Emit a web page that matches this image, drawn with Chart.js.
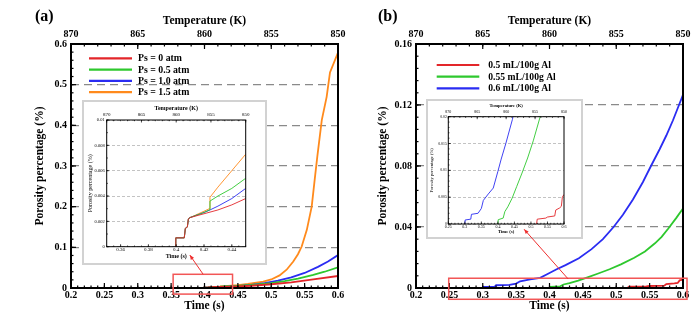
<!DOCTYPE html>
<html>
<head>
<meta charset="utf-8">
<script src="https://cdn.jsdelivr.net/npm/chart.js@4.4.1/dist/chart.umd.min.js"></script>
<style>
  body { margin: 0; background: #fff; overflow: hidden; }
  #wrap { position: relative; width: 700px; height: 321px; }
  #wrap canvas { position: absolute; }
  .inset { position: absolute; box-sizing: border-box; border: 2px solid #d2d2d2; background: #fff; }
  .inset canvas { left: 0; top: 0; }
</style>
</head>
<body>
<div id="wrap">
  <canvas id="mainA" width="350" height="321" style="left:0;top:0"></canvas>
  <canvas id="mainB" width="350" height="321" style="left:350px;top:0"></canvas>
  <div class="inset" style="left:82px;top:100px;width:185px;height:165px"><canvas id="insetA" width="181" height="161"></canvas></div>
  <div class="inset" style="left:426px;top:99px;width:157px;height:140px"><canvas id="insetB" width="153" height="136"></canvas></div>
  <canvas id="overlay" width="700" height="321" style="left:0;top:0"></canvas>
</div>
<script>
// ---- panel (a): porosity vs time for different pressures ----
const aLabels = ['Ps = 0 atm', 'Ps = 0.5 atm', 'Ps = 1.0 atm', 'Ps = 1.5 atm'];
const aRedT = [0.3995, 0.3997, 0.4058, 0.4066, 0.408, 0.4088, 0.41, 0.42, 0.43, 0.44, 0.45, 0.47, 0.5, 0.53, 0.563, 0.6];
const aRedV = [0, 0.0007, 0.0007, 0.00145, 0.00155, 0.0022, 0.0023, 0.0026, 0.0029, 0.0033, 0.0038, 0.0055, 0.0092, 0.014, 0.021, 0.0295];
const aGreenT = [0.3995, 0.3997, 0.4058, 0.4066, 0.408, 0.4088, 0.41, 0.42, 0.4238, 0.4243, 0.43, 0.44, 0.45, 0.47, 0.5, 0.52, 0.54, 0.563, 0.58, 0.6];
const aGreenV = [0, 0.0007, 0.0007, 0.00145, 0.00155, 0.0022, 0.0023, 0.0027, 0.0029, 0.0036, 0.004, 0.0046, 0.0054, 0.0075, 0.012, 0.017, 0.023, 0.032, 0.04, 0.051];
const aBlueT = [0.3995, 0.3997, 0.4058, 0.4066, 0.408, 0.4088, 0.41, 0.42, 0.4243, 0.43, 0.44, 0.45, 0.47, 0.49, 0.51, 0.53, 0.55, 0.57, 0.585, 0.6];
const aBlueV = [0, 0.0007, 0.0007, 0.00145, 0.00155, 0.0022, 0.0023, 0.0027, 0.0029, 0.0032, 0.0038, 0.0046, 0.0077, 0.012, 0.018, 0.026, 0.037, 0.052, 0.065, 0.081];
const aOrangeT = [0.3995, 0.3997, 0.4058, 0.4066, 0.408, 0.4088, 0.41, 0.42, 0.4238, 0.4243, 0.43, 0.44, 0.45, 0.465, 0.488, 0.5, 0.5125, 0.523, 0.533, 0.54, 0.5456, 0.5533, 0.5606, 0.566, 0.569, 0.5757, 0.583, 0.588, 0.6];
const aOrangeV = [0, 0.0007, 0.0007, 0.00145, 0.00155, 0.0022, 0.0023, 0.0028, 0.003, 0.0039, 0.0047, 0.006, 0.0073, 0.0098, 0.0155, 0.021, 0.031, 0.045, 0.065, 0.083, 0.102, 0.143, 0.2, 0.28, 0.323, 0.413, 0.47, 0.53, 0.579];
const aYTicks = [0, 0.1, 0.2, 0.3, 0.4, 0.5, 0.6];
const aYLabels = ['0', '0.1', '0.2', '0.3', '0.4', '0.5', '0.6'];
const aZoomBox = [0.353, 0.442, -0.015, 0.0337];     // t0, t1, v0, v1 of the red box
const aArrow = [0.398, 0.0337, 0.378, 0.081];        // from (t, v) to (t, v)

// ---- panel (b): porosity vs time for different hydrogen contents ----
const bLabels = ['0.5 mL/100g Al', '0.55 mL/100g Al', '0.6 mL/100g Al'];
const bRedT = [0.517, 0.519, 0.545, 0.55, 0.572, 0.575, 0.587, 0.592, 0.595, 0.6];
const bRedV = [0, 0.0009, 0.0011, 0.0013, 0.0015, 0.0026, 0.003, 0.0033, 0.005, 0.0055];
const bGreenT = [0.4, 0.401, 0.416, 0.421, 0.43, 0.443, 0.457, 0.473, 0.49, 0.507, 0.527, 0.543, 0.558, 0.568, 0.578, 0.59, 0.6];
const bGreenV = [0, 0.0008, 0.0011, 0.0023, 0.0032, 0.0048, 0.007, 0.0095, 0.0123, 0.0155, 0.0198, 0.024, 0.0293, 0.0335, 0.039, 0.046, 0.0522];
const bBlueT = [0.3, 0.301, 0.318, 0.32, 0.34, 0.35, 0.356, 0.371, 0.386, 0.4, 0.41, 0.424, 0.444, 0.463, 0.48, 0.496, 0.51, 0.525, 0.54, 0.552, 0.565, 0.575, 0.585, 0.594, 0.6];
const bBlueV = [0, 0.00075, 0.0009, 0.0018, 0.002, 0.0029, 0.0044, 0.0056, 0.0067, 0.0098, 0.0121, 0.015, 0.0195, 0.0255, 0.032, 0.04, 0.048, 0.058, 0.0695, 0.08, 0.091, 0.1, 0.11, 0.12, 0.1266];
const bYTicks = [0, 0.04, 0.08, 0.12, 0.16];
const bYLabels = ['0', '0.04', '0.08', '0.12', '0.16'];
const bZoomBox = [0.249, 0.606, -0.0074, 0.0064];
const bArrow = [0.428, 0.0059, 0.362, 0.0385];

// ---- shared axes ----
const timeTicks = [0.2, 0.25, 0.3, 0.35, 0.4, 0.45, 0.5, 0.55, 0.6];
const timeLabels = ['0.2', '0.25', '0.3', '0.35', '0.4', '0.45', '0.5', '0.55', '0.6'];
const tempTicks = [0.2, 0.3, 0.4, 0.5, 0.6];
const tempLabels = ['870', '865', '860', '855', '850'];

// ---- insets ----
const iaTimeTicks = [0.36, 0.38, 0.4, 0.42, 0.44];
const iaTimeLabels = ['0.36', '0.38', '0.4', '0.42', '0.44'];
const iaTempTicks = [0.35, 0.375, 0.4, 0.425, 0.45];
const iaYTicks = [0, 0.002, 0.004, 0.006, 0.008, 0.01];
const iaYLabels = ['0', '0.002', '0.004', '0.006', '0.008', '0.01'];
const ibTimeTicks = [0.25, 0.3, 0.35, 0.4, 0.45, 0.5, 0.55, 0.6];
const ibTimeLabels = ['0.25', '0.3', '0.35', '0.4', '0.45', '0.5', '0.55', '0.6'];
const ibTempTicks = [0.25, 0.3375, 0.425, 0.5125, 0.6];
const ibYTicks = [0, 0.005, 0.01, 0.015, 0.02];
const ibYLabels = ['0', '0.005', '0.01', '0.015', '0.02'];

const RED = '#e3262a', GREEN = '#2ec82e', BLUE = '#2a2cf2', ORANGE = '#ff8a1c';
const SERIF = "'Liberation Serif', 'Times New Roman', serif";
Chart.defaults.font.family = SERIF;
Chart.defaults.color = '#000';

// frame box with inward major/minor ticks on bottom, left and top
const frameTicks = {
  id: 'frameTicks',
  afterDatasetsDraw(chart, args, o) {
    const { ctx, chartArea: a, scales } = chart;
    ctx.save();
    ctx.strokeStyle = '#000';
    const tick = (x1, y1, x2, y2) => { ctx.beginPath(); ctx.moveTo(x1, y1); ctx.lineTo(x2, y2); ctx.stroke(); };
    const minors = (s, step) => {
      const n = Math.round((s.max - s.min) / step);
      const out = [];
      for (let i = 0; i <= n; i++) out.push(s.min + i * step);
      return out;
    };
    ctx.lineWidth = o.tickW;
    minors(scales.x, o.minorX).forEach(v => { const p = scales.x.getPixelForValue(v); tick(p, a.bottom, p, a.bottom - o.minor); });
    scales.x.ticks.forEach(t => { const p = scales.x.getPixelForValue(t.value); tick(p, a.bottom, p, a.bottom - o.major); });
    minors(scales.x2, o.minorTop).forEach(v => { const p = scales.x2.getPixelForValue(v); tick(p, a.top, p, a.top + o.minor); });
    scales.x2.ticks.forEach(t => { const p = scales.x2.getPixelForValue(t.value); tick(p, a.top, p, a.top + o.major); });
    minors(scales.y, o.minorY).forEach(v => { const p = scales.y.getPixelForValue(v); tick(a.left, p, a.left + o.minor, p); });
    scales.y.ticks.forEach(t => { const p = scales.y.getPixelForValue(t.value); tick(a.left, p, a.left + o.major, p); });
    ctx.lineWidth = o.lw;
    ctx.strokeRect(a.left, a.top, a.right - a.left, a.bottom - a.top);
    ctx.restore();
  }
};

// legend drawn inside the plot area + the panel tag
const seriesKey = {
  id: 'seriesKey',
  afterDraw(chart, args, o) {
    const { ctx, chartArea: a } = chart;
    ctx.save();
    if (o.tag) {
      ctx.font = 'bold 16px ' + SERIF;
      ctx.fillStyle = '#000';
      ctx.textBaseline = 'middle';
      ctx.fillText(o.tag, o.tagX, o.tagY);
    }
    if (o.show) {
      ctx.font = 'bold ' + o.size + 'px ' + SERIF;
      ctx.textBaseline = 'middle';
      chart.data.datasets.forEach((ds, i) => {
        const y = a.top + o.y0 + i * o.dy;
        ctx.strokeStyle = ds.borderColor;
        ctx.lineWidth = 2.2;
        ctx.beginPath();
        ctx.moveTo(a.left + o.x0, y);
        ctx.lineTo(a.left + o.x1, y);
        ctx.stroke();
        ctx.fillStyle = '#000';
        ctx.fillText(ds.label, a.left + o.tx, y + 0.5);
      });
    }
    ctx.restore();
  }
};

function axis(pos, o) {
  const horiz = pos === 'top' || pos === 'bottom';
  return {
    type: 'linear', position: pos, min: o.min, max: o.max,
    afterBuildTicks: s => { s.ticks = o.ticks.map(v => ({ value: v })); },
    afterFit: s => { if (horiz) s.height = o.size; else s.width = o.size; },
    ticks: { callback: (v, i) => o.labels[i], font: o.font, padding: o.pad, autoSkip: false, maxRotation: 0, minRotation: 0, color: '#000' },
    grid: o.grid ? { color: o.grid.color, lineWidth: o.grid.width, drawTicks: false } : { display: false, drawTicks: false },
    border: { display: false, dash: o.grid ? o.grid.dash : [] },
    title: { display: true, text: o.title, font: o.titleFont, padding: { top: o.titlePad, bottom: o.titlePad }, color: '#000' }
  };
}

function series(labels, ts, vs, colors, width) {
  return labels.map((label, i) => ({
    label,
    data: ts[i].map((t, k) => ({ x: t, y: vs[i][k] })),
    borderColor: colors[i],
    borderWidth: width,
    pointRadius: 0,
    tension: 0,
    xAxisID: 'x',
    yAxisID: 'y'
  }));
}

function makeChart(id, datasets, scales, padRight, frame, key) {
  return new Chart(document.getElementById(id), {
    type: 'line',
    data: { datasets },
    options: {
      responsive: false,
      animation: false,
      events: [],
      layout: { padding: { left: 0, right: padRight, top: 0, bottom: 0 } },
      plugins: { legend: { display: false }, tooltip: { enabled: false }, frameTicks: frame, seriesKey: key },
      scales
    },
    plugins: [frameTicks, seriesKey]
  });
}

const tickFont = { size: 10, weight: 'bold' };
const titleFont = { size: 11.5, weight: 'bold' };
const mainGrid = { color: '#8a8a8a', width: 1.3, dash: [8, 5] };
const mainFrame = { lw: 2, tickW: 1.2, major: 5, minor: 2.5, minorX: 0.01, minorTop: 0.02 };

function mainScales(yMax, yTicks, yLabels, yWidth, yTitlePad) {
  return {
    x: axis('bottom', { min: 0.2, max: 0.6, ticks: timeTicks, labels: timeLabels, size: 33, font: tickFont, pad: 1, title: 'Time (s)', titleFont, titlePad: 8 }),
    x2: axis('top', { min: 0.2, max: 0.6, ticks: tempTicks, labels: tempLabels, size: 44, font: tickFont, pad: 3.5, title: 'Temperature (K)', titleFont, titlePad: 14.5 }),
    y: axis('left', { min: 0, max: yMax, ticks: yTicks, labels: yLabels, size: yWidth, font: tickFont, pad: 4, title: 'Porosity percentage (%)', titleFont, titlePad: yTitlePad, grid: mainGrid })
  };
}

const aTs = [aRedT, aGreenT, aBlueT, aOrangeT], aVs = [aRedV, aGreenV, aBlueV, aOrangeV];
const bTs = [bRedT, bGreenT, bBlueT], bVs = [bRedV, bGreenV, bBlueV];
const aColors = [RED, GREEN, BLUE, ORANGE], bColors = [RED, GREEN, BLUE];

const mainA = makeChart('mainA', series(aLabels, aTs, aVs, aColors, 1.8),
  mainScales(0.6, aYTicks, aYLabels, 71, 33), 12,
  Object.assign({ minorY: 0.02 }, mainFrame),
  { show: true, x0: 18, x1: 61, tx: 67, y0: 14.3, dy: 11.3, size: 9.8, tag: '(a)', tagX: 35, tagY: 17 });

const mainB = makeChart('mainB', series(bLabels, bTs, bVs, bColors, 1.8),
  mainScales(0.16, bYTicks, bYLabels, 66, 26.5), 17,
  Object.assign({ minorY: 0.008 }, mainFrame),
  { show: true, x0: 20.7, x1: 63.3, tx: 72.3, y0: 21, dy: 11.7, size: 9.6, tag: '(b)', tagX: 28, tagY: 17 });

// insets
const insetGrid = { color: '#b4b4b4', width: 0.8, dash: [3, 2] };

makeChart('insetA', series(aLabels, aTs, aVs, aColors, 0.9), {
  x: axis('bottom', { min: 0.35, max: 0.45, ticks: iaTimeTicks, labels: iaTimeLabels, size: 16.3, font: { size: 5 }, pad: 0.3, title: 'Time (s)', titleFont: { size: 6, weight: 'bold' }, titlePad: 3.4 }),
  x2: axis('top', { min: 0.35, max: 0.45, ticks: iaTempTicks, labels: tempLabels, size: 18, font: { size: 5 }, pad: 2, title: 'Temperature (K)', titleFont: { size: 6, weight: 'bold' }, titlePad: 2.7 }),
  y: axis('left', { min: 0, max: 0.01, ticks: iaYTicks, labels: iaYLabels, size: 22.7, font: { size: 4.5 }, pad: 2, title: 'Porosity percentage (%)', titleFont: { size: 6 }, titlePad: 2.4, grid: insetGrid })
}, 19.3, { lw: 1, tickW: 0.7, major: 2.5, minor: 1.2, minorX: 0.005, minorTop: 0.005, minorY: 0.001 }, { show: false });

makeChart('insetB', series(bLabels, bTs, bVs, bColors, 0.9), {
  x: axis('bottom', { min: 0.25, max: 0.6, ticks: ibTimeTicks, labels: ibTimeLabels, size: 13, font: { size: 4 }, pad: 0.3, title: 'Time (s)', titleFont: { size: 4.6, weight: 'bold' }, titlePad: 2 }),
  x2: axis('top', { min: 0.25, max: 0.6, ticks: ibTempTicks, labels: tempLabels, size: 15.7, font: { size: 4 }, pad: 2, title: 'Temperature (K)', titleFont: { size: 4.6, weight: 'bold' }, titlePad: 2.3 }),
  y: axis('left', { min: 0, max: 0.02, ticks: ibYTicks, labels: ibYLabels, size: 20.3, font: { size: 3.8 }, pad: 1.5, title: 'Porosity percentage (%)', titleFont: { size: 4.6 }, titlePad: 1, grid: insetGrid })
}, 17, { lw: 1, tickW: 0.7, major: 2.5, minor: 1.2, minorX: 0.01, minorTop: 0.0175, minorY: 0.001 }, { show: false });

// zoom boxes and arrows, on top of everything
function callout(chart, offX, box, arrow) {
  const ctx = document.getElementById('overlay').getContext('2d');
  const xs = chart.scales.x, ys = chart.scales.y;
  const px = v => offX + xs.getPixelForValue(v);
  const py = v => ys.getPixelForValue(v);
  ctx.save();
  ctx.strokeStyle = '#f25656';
  ctx.lineWidth = 1.5;
  ctx.strokeRect(px(box[0]), py(box[3]), px(box[1]) - px(box[0]), py(box[2]) - py(box[3]));
  const x1 = px(arrow[0]), y1 = py(arrow[1]), x2 = px(arrow[2]), y2 = py(arrow[3]);
  const ang = Math.atan2(y2 - y1, x2 - x1);
  ctx.strokeStyle = '#ee2f2f';
  ctx.fillStyle = '#ee2f2f';
  ctx.lineWidth = 1;
  ctx.beginPath(); ctx.moveTo(x1, y1); ctx.lineTo(x2, y2); ctx.stroke();
  ctx.beginPath();
  ctx.moveTo(x2, y2);
  ctx.lineTo(x2 - 5 * Math.cos(ang - 0.4), y2 - 5 * Math.sin(ang - 0.4));
  ctx.lineTo(x2 - 5 * Math.cos(ang + 0.4), y2 - 5 * Math.sin(ang + 0.4));
  ctx.closePath();
  ctx.fill();
  ctx.restore();
}
callout(mainA, 0, aZoomBox, aArrow);
callout(mainB, 350, bZoomBox, bArrow);
</script>
</body>
</html>
